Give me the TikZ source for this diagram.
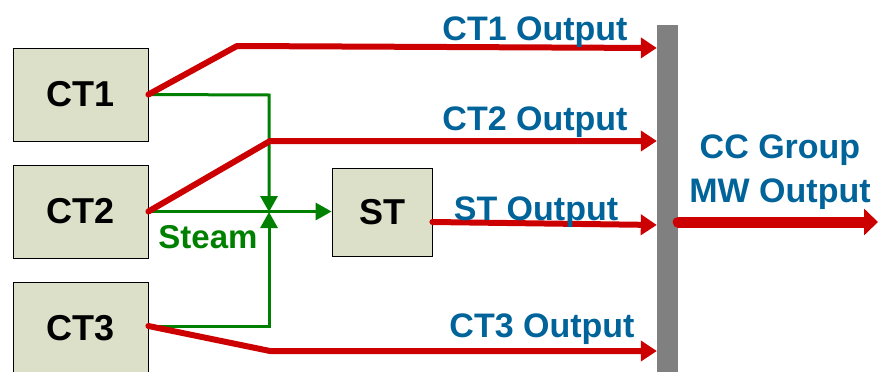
\documentclass[tikz,border=0pt]{standalone}
\usepackage{fontspec}
\setmainfont{Liberation Sans}
\usetikzlibrary{arrows.meta}
\definecolor{pwred}{RGB}{204,0,0}
\definecolor{pwgreen}{RGB}{0,128,0}
\definecolor{pwblue}{RGB}{0,99,153}
\definecolor{boxfill}{RGB}{221,224,201}
\definecolor{bargray}{RGB}{128,128,128}
\begin{document}
\begin{tikzpicture}[x=1pt,y=-1pt,
  unitbox/.style={draw=black,line width=0.8pt,fill=boxfill,minimum width=135pt,minimum height=93pt,inner sep=0pt,
    font=\bfseries\fontsize{36}{36}\selectfont},
  redflow/.style={draw=pwred,line width=6pt,line cap=round,line join=round,-{Triangle[length=16pt,width=20pt]}},
  steamflow/.style={draw=pwgreen,line width=3pt,line join=miter,-{Triangle[length=16pt,width=17pt]}},
  outlabel/.style={text=pwblue,font=\bfseries\fontsize{34}{34}\selectfont,anchor=base,inner sep=0pt},
]
\useasboundingbox (0,0) rectangle (878,372);
% boxes
\node[unitbox] (ct1) at (80.5,94.5) {CT1};
\node[unitbox] (ct2) at (80.5,211.5) {CT2};
\node[unitbox,minimum height=92pt] (ct3) at (80.5,328) {CT3};
\node[unitbox,minimum width=100pt,minimum height=88pt] (st) at (382,212) {ST};
\node[fill=bargray,minimum width=21pt,minimum height=350pt,inner sep=0pt] (bar) at (667.5,200) {};
% steam lines
\coordinate (j1) at (269,95);
\coordinate (j3) at (269,326);
\coordinate (jm) at (269,212);
\draw[steamflow] (ct1.east) -- (j1) -- (jm);
\draw[steamflow] (ct3.east |- j3) -- (j3) -- (jm);
\draw[steamflow] (ct2.east) -- (st.west |- ct2.east);
\node[text=pwgreen,font=\bfseries\fontsize{33}{33}\selectfont,anchor=base,inner sep=0pt] (steam) at (208,248) {Steam};
% power lines
\coordinate (k1) at (237,46);
\coordinate (k2) at (270,141);
\coordinate (k3) at (270,351);
\draw[redflow] (ct1.east) -- (k1) -- (bar.west |- 0,48);
\draw[redflow] (ct2.east) -- (k2) -- (bar.west |- k2);
\draw[redflow] ([yshift=-10pt]st.east) -- (bar.west |- 0,225);
\draw[redflow] (ct3.east |- j3) -- (k3) -- (bar.west |- k3);
\coordinate (outend) at (878,222);
\draw[draw=pwred,line width=11pt,line cap=round,-{Triangle[length=14pt,width=26pt]}] (bar.east |- outend) -- (outend);
% labels
\node[outlabel] (l1) at (535,40) {CT1 Output};
\node[outlabel] (l2) at (535,130) {CT2 Output};
\node[outlabel] (l3) at (536,220) {ST Output};
\node[outlabel] (l4) at (542,337) {CT3 Output};
\node[outlabel] (l5) at (780,158) {CC Group};
\node[outlabel] (l6) at (780,202) {MW Output};
\end{tikzpicture}
\end{document}
